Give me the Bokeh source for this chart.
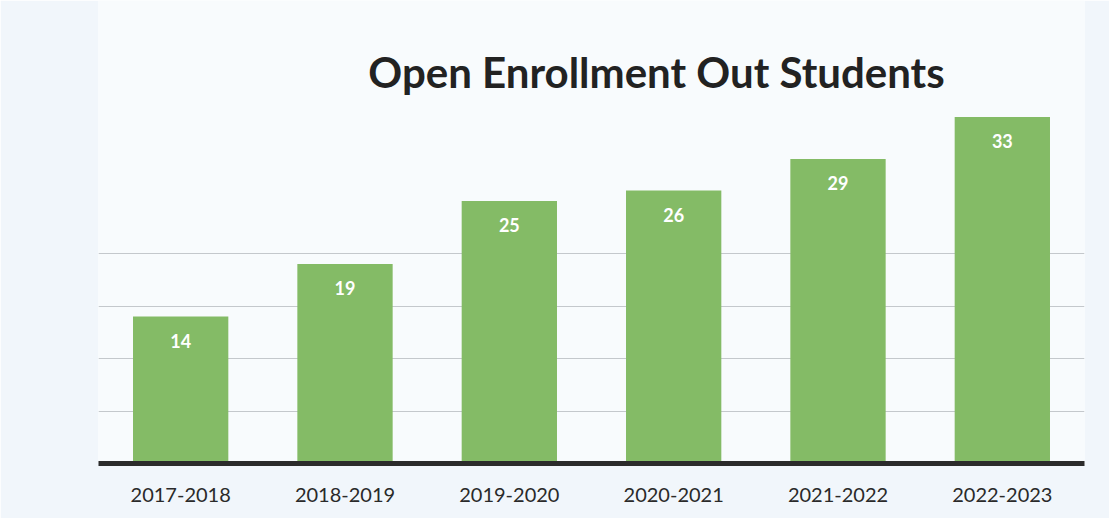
from bokeh.plotting import figure
from bokeh.models import Range1d, FixedTicker, Label, ColumnDataSource
from bokeh.embed import file_html
from bokeh.resources import INLINE
from bokeh.core.properties import value

years = ["2017-2018", "2018-2019", "2019-2020", "2020-2021", "2021-2022", "2022-2023"]
students = [14, 19, 25, 26, 29, 33]
grid_values = [5, 10, 15, 20]
title_text = "Open Enrollment Out Students"

src = ColumnDataSource(dict(x=years, top=students, label=[str(v) for v in students]))

p = figure(width=1109, height=518, output_backend="svg", toolbar_location=None,
           x_range=years, y_range=Range1d(0, 44.1),
           min_border_left=98, min_border_right=25, min_border_top=0, min_border_bottom=55)
p.x_range.range_padding = 0
p.border_fill_color = "#f1f6fb"
p.background_fill_color = "#f8fbfd"
p.outline_line_color = None

p.vbar(x="x", top="top", width=0.58, bottom=0, source=src,
       fill_color="#84bb66", line_color=None)

p.text(x="x", y="top", text="label", source=src, y_offset=24,
       text_align="center", text_baseline="middle", text_color="white",
       text_font=value("Lato"), text_font_style="bold", text_font_size="18px")

p.yaxis.visible = False
p.xgrid.visible = False
p.ygrid.ticker = FixedTicker(ticks=grid_values)
p.ygrid.grid_line_color = "#c4c8cc"
p.ygrid.grid_line_width = 1

p.xaxis.major_tick_line_color = None
p.xaxis.minor_tick_line_color = None
p.xaxis.axis_line_width = 5
p.xaxis.axis_line_color = "#2b2b2b"
p.xaxis.major_label_text_font = "Lato"
p.xaxis.major_label_text_font_size = "20px"
p.xaxis.major_label_text_color = "#2a2a2a"
p.xaxis.major_label_standoff = 18

p.add_layout(Label(x=558, y=392, x_units="screen", y_units="screen", text=title_text,
                   text_align="center", text_baseline="alphabetic",
                   text_font="Lato", text_font_style="bold", text_font_size="42px",
                   text_color="#222222"))

open("out.html", "w").write(file_html(p, INLINE))
